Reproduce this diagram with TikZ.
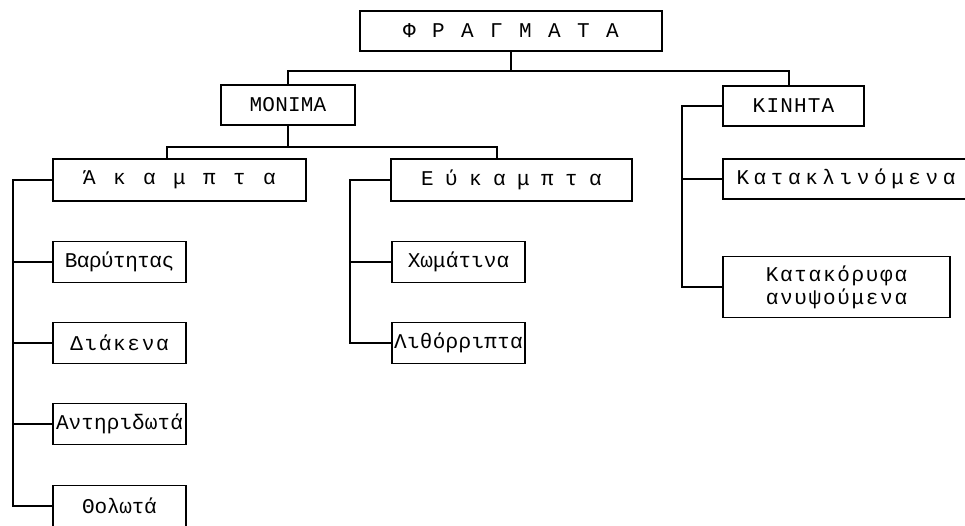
\documentclass[tikz,border=0pt]{standalone}
\usepackage{fontspec}
\newfontfamily\tw{Liberation Mono}
\def\lsloop#1{\ifx#1\relax\else\makebox[\lspitch][c]{#1}\expandafter\lsloop\fi}
\newcommand\lsp[2]{\def\lspitch{#1pt}\lsloop#2\relax}
\begin{document}
\begin{tikzpicture}[x=1pt,y=-1pt,line width=1.4pt,
  box/.style={draw, rectangle, inner sep=0pt, font=\tw\fontsize{21}{23}\selectfont, align=center},
  link/.style={draw, line width=1.4pt}]
\useasboundingbox (0,0) rectangle (965,525);
\clip (0,0) rectangle (965,525);
% nodes
\node[box, minimum width=302pt, minimum height=40pt] (top) at (511,31) {\lsp{29}{ΦΡΑΓΜΑΤΑ}};
\node[box, minimum width=134pt, minimum height=40pt] (monima) at (288,105) {\lsp{12.8}{ΜΟΝΙΜΑ}};
\node[box, minimum width=141pt, minimum height=40pt] (kinhta) at (793.5,106) {\lsp{13.8}{ΚΙΝΗΤΑ}};
\node[box, minimum width=253pt, minimum height=42pt] (akampta) at (179.5,180) {\lsp{30}{Άκαμπτα}};
\node[box, minimum width=241pt, minimum height=42pt] (eukampta) at (511.5,180) {\lsp{24}{Εύκαμπτα}};
\node[box, minimum width=133pt, minimum height=41pt] (bar) at (119.5,262) {\lsp{12.1}{Βαρύτητας}};
\node[box, minimum width=133pt, minimum height=41pt] (diak) at (119.5,343) {\lsp{14.3}{Διάκενα}};
\node[box, minimum width=133pt, minimum height=41pt] (antir) at (119.5,424) {\lsp{12.7}{Αντηριδωτά}};
\node[box, minimum width=133pt, minimum height=41pt] (thol) at (119.5,506) {\lsp{12.4}{Θολωτά}};
\node[box, minimum width=133pt, minimum height=41pt] (xom) at (458.5,262) {\lsp{12.7}{Χωμάτινα}};
\node[box, minimum width=133pt, minimum height=41pt] (lith) at (458.5,343) {\lsp{12.9}{Λιθόρριπτα}};
\node[box, minimum width=246pt, minimum height=40pt] (katakl) at (846,179) {\lsp{17.2}{Κατακλινόμενα}};
\node[box, minimum width=227pt, minimum height=61pt] (katak) at (836.5,287) {\lsp{14.3}{Κατακόρυφα}\\\lsp{14.3}{ανυψούμενα}};
% connectors
\coordinate (b1) at (511,71);
\draw[link] (top.south) -- (b1);
\draw[link] (monima.north) |- (b1) -| ([xshift=-4.5pt]kinhta.north);
\coordinate (b2) at (288,147);
\draw[link] (monima.south) -- (b2);
\draw[link] ([xshift=-12.5pt]akampta.north) |- (b2) -| ([xshift=-14.5pt]eukampta.north);
% left spine
\coordinate (s1) at (13,180);
\draw[link] (akampta.west) -- (s1) |- (thol.west);
\draw[link] (bar.west) -- (bar.west -| s1);
\draw[link] (diak.west) -- (diak.west -| s1);
\draw[link] (antir.west) -- (antir.west -| s1);
% middle spine
\coordinate (s2) at (350,180);
\draw[link] (eukampta.west) -- (s2) |- (lith.west);
\draw[link] (xom.west) -- (xom.west -| s2);
% right spine
\coordinate (s3) at (682,106);
\draw[link] (kinhta.west) -- (s3) |- (katak.west);
\draw[link] (katakl.west) -- (katakl.west -| s3);
\end{tikzpicture}
\end{document}
